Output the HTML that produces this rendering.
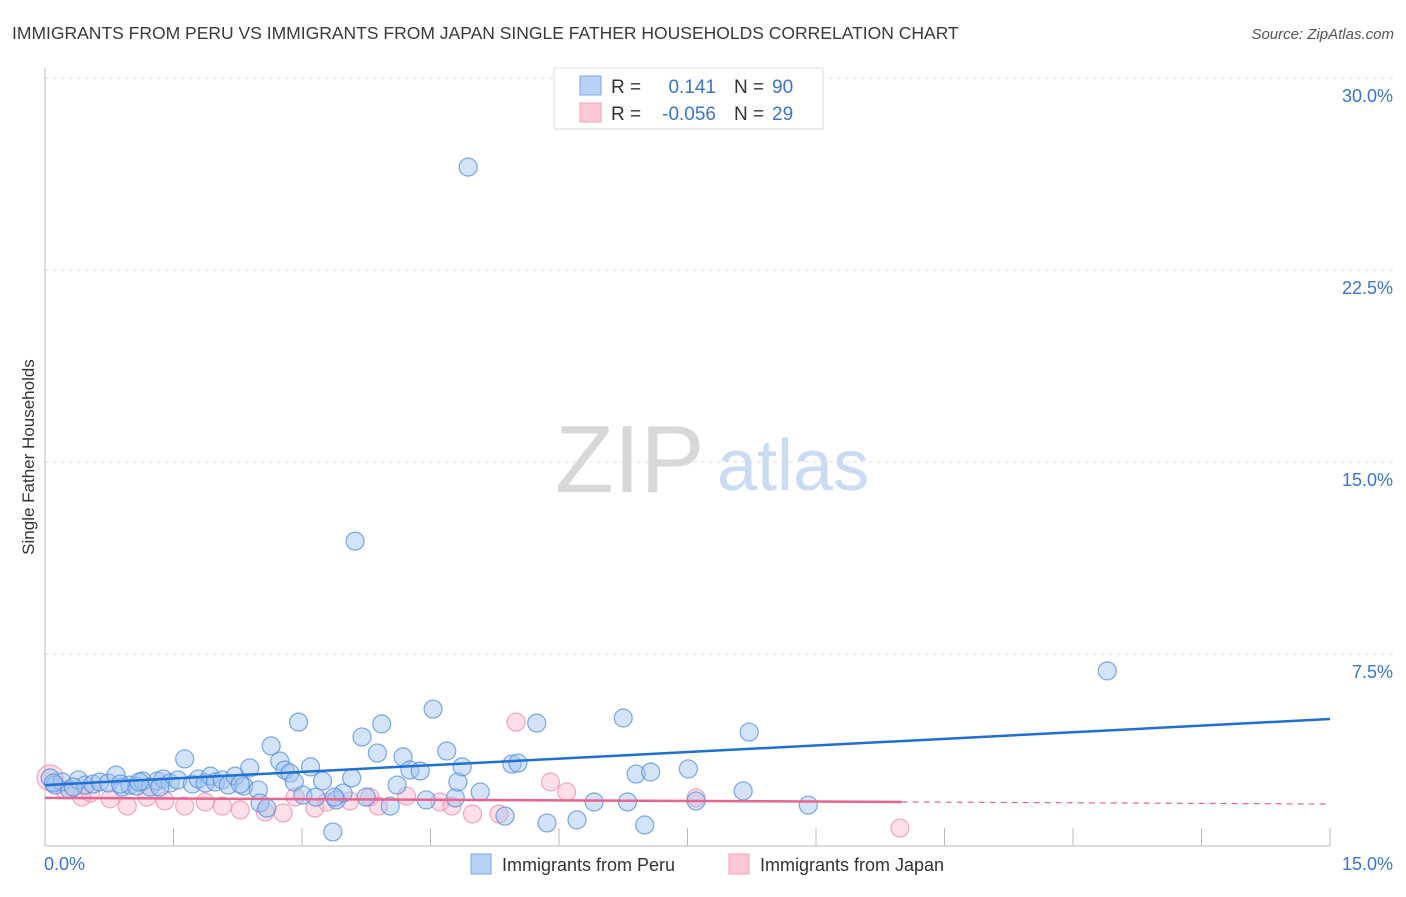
<!DOCTYPE html>
<html><head><meta charset="utf-8"><style>
body{margin:0;background:#fff;width:1406px;height:892px;overflow:hidden;font-family:"Liberation Sans",sans-serif;}
svg text{font-family:"Liberation Sans",sans-serif;}
</style></head><body>
<svg id="chart" width="1406" height="892" xmlns="http://www.w3.org/2000/svg">
<text x="12" y="39" font-size="17.5" fill="#3a3a3a">IMMIGRANTS FROM PERU VS IMMIGRANTS FROM JAPAN SINGLE FATHER HOUSEHOLDS CORRELATION CHART</text>
<text x="1394" y="39" font-size="15" fill="#555" text-anchor="end" font-style="italic">Source: ZipAtlas.com</text>
<g>
<text x="555" y="492" font-size="96" fill="#d8d8d8" font-family="Liberation Serif, serif">ZIP</text>
<text x="717" y="490" font-size="72" fill="#c9dcf3">atlas</text>
</g>
<g id="grid"></g>
<g id="axes"></g>
<g id="pts"></g>
<g id="trends"></g>
<text transform="translate(34,457) rotate(-90)" font-size="17" fill="#333" text-anchor="middle">Single Father Households</text>
<g>
<rect x="554" y="68" width="269" height="61" fill="#fff" stroke="#ddd"/>
<rect x="580" y="76" width="21" height="19" fill="#b8d2f5" stroke="#7aa8e8"/>
<rect x="580" y="103" width="21" height="19" fill="#fcc8d6" stroke="#f0a4bb"/>
<text x="611" y="93" font-size="19" fill="#333">R =</text>
<text x="716" y="93" font-size="19" fill="#3a74d0" text-anchor="end">0.141</text>
<text x="734" y="93" font-size="19" fill="#333">N =</text>
<text x="772" y="93" font-size="19" fill="#3a74d0">90</text>
<text x="611" y="120" font-size="19" fill="#333">R =</text>
<text x="716" y="120" font-size="19" fill="#3a74d0" text-anchor="end">-0.056</text>
<text x="734" y="120" font-size="19" fill="#333">N =</text>
<text x="772" y="120" font-size="19" fill="#3a74d0">29</text>
</g>
<g>
<rect x="471" y="854" width="20" height="20" fill="#b8d2f5" stroke="#7aa8e8"/>
<text x="502" y="871" font-size="18" fill="#333">Immigrants from Peru</text>
<rect x="729" y="854" width="20" height="20" fill="#fcc8d6" stroke="#f0a4bb"/>
<text x="760" y="871" font-size="18" fill="#333">Immigrants from Japan</text>
</g>
</svg>
<script>
const yTicks=[7.5,15.0,22.5,30.0];
const yTickLabels=["7.5%","15.0%","22.5%","30.0%"];
const xTickLabels=["0.0%","15.0%"];
const peruX=[0.06,0.12,0.20,0.29,0.39,0.47,0.56,0.64,0.74,0.83,0.90,0.99,1.07,1.14,1.23,1.31,1.38,1.46,1.55,1.63,1.72,1.79,1.87,1.93,1.99,2.07,2.14,2.22,2.32,2.39,2.49,2.51,2.59,2.64,2.74,2.80,2.86,2.91,2.96,3.01,3.10,3.16,3.24,3.36,3.40,3.48,3.58,3.62,3.70,3.75,3.88,3.93,4.03,4.11,4.18,4.26,4.38,4.45,4.53,4.69,4.79,4.82,4.87,4.94,5.08,5.37,5.45,5.52,5.74,5.86,6.21,6.41,6.75,6.80,6.90,7.00,7.07,7.51,7.60,8.15,8.22,8.91,12.40,3.38,1.34,0.88,0.33,2.28,0.10,1.10];
const peruY=[2.66,2.38,2.50,2.19,2.58,2.38,2.42,2.50,2.46,2.77,2.30,2.38,2.34,2.54,2.30,2.54,2.62,2.46,2.58,3.40,2.42,2.62,2.46,2.73,2.50,2.58,2.38,2.73,2.34,3.05,2.19,1.68,1.48,3.91,3.32,2.97,2.85,2.50,4.84,1.99,3.09,1.91,2.54,0.55,1.80,2.07,2.66,11.91,4.26,1.91,3.63,4.77,1.56,2.38,3.48,2.97,2.93,1.80,5.35,3.71,1.88,2.50,3.09,26.52,2.11,1.17,3.20,3.24,4.80,0.90,1.02,1.72,5.00,1.72,2.81,0.82,2.89,3.01,1.76,2.15,4.45,1.60,6.84,1.91,2.30,2.42,2.30,2.42,2.46,2.50];
const japanX=[0.06,0.23,0.43,0.53,0.76,0.96,1.19,1.40,1.63,1.87,2.07,2.28,2.57,2.78,2.92,3.15,3.29,3.56,3.79,3.89,4.22,4.61,4.75,4.99,5.30,5.50,5.90,6.09,7.60,9.98];
const japanY=[2.66,2.19,1.91,2.07,1.84,1.56,1.91,1.76,1.56,1.72,1.56,1.41,1.33,1.29,1.91,1.48,1.72,1.76,1.91,1.56,1.95,1.72,1.56,1.25,1.25,4.84,2.50,2.11,1.88,0.70];
const peruTrend=[2.38,4.96];
const japanTrend=[1.88,1.64];
const japanSolidEnd=10.0;
const NS="http://www.w3.org/2000/svg";
const X0=45,X1=1330,Y0=846,Y30=78;
function sx(v){return X0+(v/15)*(X1-X0);}
function sy(v){return Y0-(v/30)*(Y0-Y30);}
function mk(tag,attrs,parent){const e=document.createElementNS(NS,tag);for(const k in attrs)e.setAttribute(k,attrs[k]);parent.appendChild(e);return e;}
const grid=document.getElementById('grid'),axes=document.getElementById('axes'),pts=document.getElementById('pts'),tr=document.getElementById('trends');
yTicks.forEach((t,i)=>{
  const l=mk('line',{x1:X0,x2:1393,y1:sy(t),y2:sy(t),stroke:'#ddd','stroke-dasharray':'4,4'},grid);
  
  
  const tx=mk('text',{x:1393,y:sy(t)+24,'font-size':18,fill:'#3a74d0','text-anchor':'end'},axes);
  tx.textContent=yTickLabels[i];
  
  
});
const la=mk('line',{x1:X0,x2:X0,y1:68,y2:Y0,stroke:'#bbb'},axes);


const ba=mk('line',{x1:X0,x2:X1,y1:Y0,y2:Y0,stroke:'#bbb'},axes);


for(let i=1;i<=10;i++){
  const tk=mk('line',{x1:sx(i*1.5),x2:sx(i*1.5),y1:Y0,y2:Y0-18,stroke:'#bbb'},axes);
  
  
}
const xl0=mk('text',{x:44,y:870,'font-size':18,fill:'#3a74d0'},axes);
xl0.textContent=xTickLabels[0];


const xl1=mk('text',{x:1393,y:870,'font-size':18,fill:'#3a74d0','text-anchor':'end'},axes);
xl1.textContent=xTickLabels[1];


japanX.forEach((x,i)=>{
  const c=mk('circle',{cx:sx(x),cy:sy(japanY[i]),r:i===0?13:9,fill:'rgba(248,176,198,0.4)',stroke:'rgba(236,140,170,0.75)','stroke-width':1.2},pts);
  
  
});
peruX.forEach((x,i)=>{
  const c=mk('circle',{cx:sx(x),cy:sy(peruY[i]),r:9,fill:'rgba(160,196,240,0.45)',stroke:'rgba(80,140,220,0.75)','stroke-width':1.2},pts);
  
  
});
const pl=mk('line',{x1:sx(0),y1:sy(peruTrend[0]),x2:sx(15),y2:sy(peruTrend[1]),stroke:'#1f6fd6','stroke-width':2.5},tr);


const jm=japanTrend[0]+(japanTrend[1]-japanTrend[0])*japanSolidEnd/15;
const jl=mk('line',{x1:sx(0),y1:sy(japanTrend[0]),x2:sx(japanSolidEnd),y2:sy(jm),stroke:'#e8638f','stroke-width':2.5},tr);


const jd=mk('line',{x1:sx(japanSolidEnd),y1:sy(jm),x2:sx(15),y2:sy(japanTrend[1]),stroke:'#e8638f','stroke-width':1.2,'stroke-dasharray':'6,5'},tr);


</script>
</body></html>
